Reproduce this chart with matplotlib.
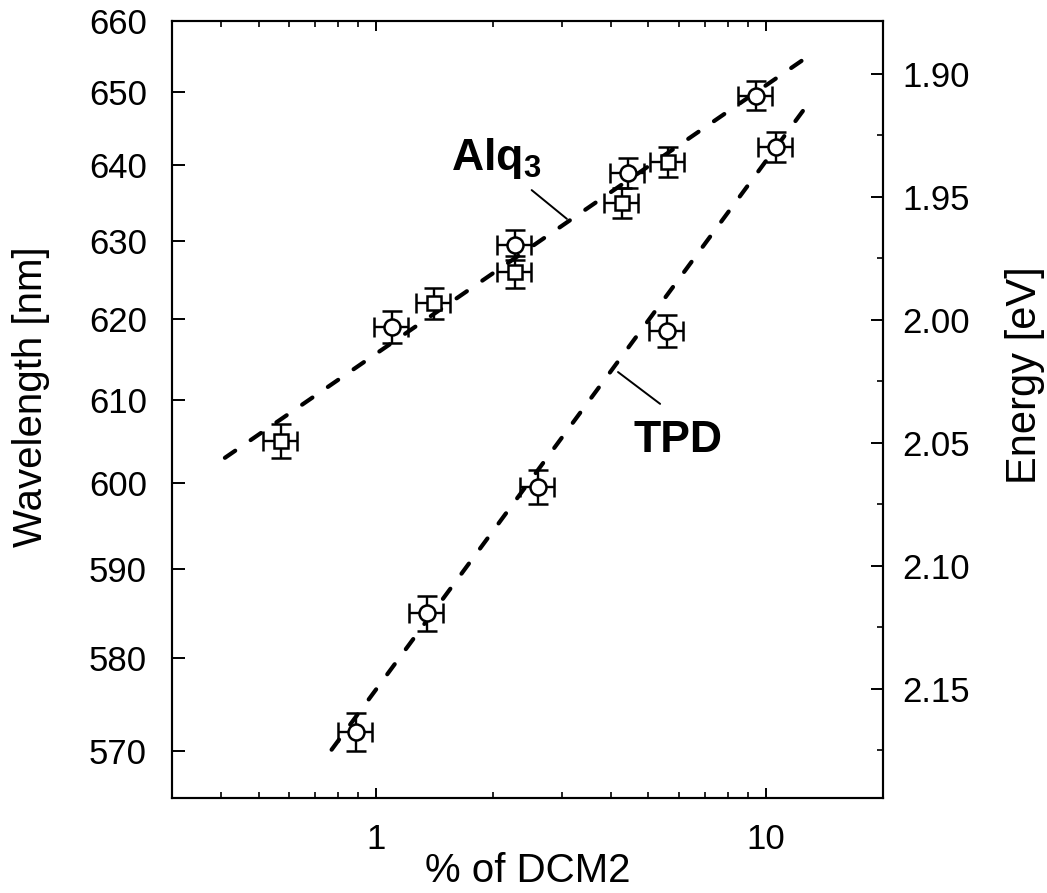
import numpy as np
import matplotlib
matplotlib.use("Agg")
from matplotlib import pyplot as plt
from matplotlib import ticker

plt.rcParams['font.family'] = ['Liberation Sans', 'DejaVu Sans']
plt.rcParams['mathtext.fontset'] = 'custom'
plt.rcParams['mathtext.bf'] = 'Liberation Sans:bold'
plt.rcParams['mathtext.rm'] = 'Liberation Sans'

HC = 1239.84  # eV*nm

# measured peaks, square symbols
square_pct = [0.57, 1.41, 2.27, 4.28, 5.62]
square_nm = [605.0, 622.0, 626.0, 635.0, 640.5]

# measured peaks, circle symbols (upper branch)
circle_pct = [1.10, 2.27, 4.43, 9.42]
circle_nm = [619.0, 629.5, 639.0, 649.5]

# circle symbols, lower branch
tpd_pct = [0.89, 1.35, 2.60, 5.59, 10.6]
tpd_nm = [572.0, 585.0, 599.5, 618.5, 642.5]

nm_err = 2.0     # nm
pct_err = 0.10   # relative

# guide lines (end points)
alq3_fit_pct = [0.41, 12.7]
alq3_fit_nm = [603.0, 654.8]
tpd_fit_pct = [0.77, 12.9]
tpd_fit_nm = [570.1, 648.5]

nm_ticks = [570, 580, 590, 600, 610, 620, 630, 640, 650, 660]
ev_ticks = [1.90, 1.95, 2.00, 2.05, 2.10, 2.15]
ev_minor = [1.925, 1.975, 2.025, 2.075, 2.125, 2.175]
nm_lim = (565, 660)
pct_lim = (0.3, 20)


def nm_to_ev(l):
    return HC / np.asarray(l)


def fwd(l):
    return -HC / np.asarray(l)


def inv(v):
    return -HC / np.asarray(v)


fig = plt.figure(figsize=(10.47, 8.93), dpi=100)
ax = fig.add_axes([0.1643, 0.1064, 0.6791, 0.8701])
ax.set_xscale('log')
ax.set_yscale('function', functions=(fwd, inv))
ax.set_xlim(*pct_lim)
ax.set_ylim(*nm_lim)

dash = (0, (3, 4.5))
ax.plot(alq3_fit_pct, alq3_fit_nm, color='black', lw=3.0, ls=dash,
        dash_capstyle='round', zorder=2)
ax.plot(tpd_fit_pct, tpd_fit_nm, color='black', lw=3.0, ls=dash,
        dash_capstyle='round', zorder=2)

def draw_points(x, y, marker, ms):
    x = np.asarray(x)
    ax.errorbar(x, y, xerr=[x * pct_err, x * pct_err], yerr=nm_err,
                fmt=marker, ms=ms, mfc='white', mec='black', mew=1.8,
                ecolor='black', elinewidth=1.7, capsize=7.5, capthick=1.7,
                zorder=3)

draw_points(square_pct, square_nm, 's', 9.5)
draw_points(circle_pct, circle_nm, 'o', 11.5)
draw_points(tpd_pct, tpd_nm, 'o', 11.5)

# labels for the two lines
ax.text(1.56, 639.4, r'$\mathbf{Alq_3}$', fontsize=32, ha='left', va='baseline')
ax.annotate('', xy=(3.09, 632.9), xytext=(2.51, 636.7),
            arrowprops=dict(arrowstyle='-', lw=1.4, color='black',
                            shrinkA=0, shrinkB=0))
ax.text(4.57, 603.7, 'TPD', fontsize=32, fontweight='bold', ha='left', va='baseline')
ax.annotate('', xy=(5.36, 609.5), xytext=(4.18, 613.4),
            arrowprops=dict(arrowstyle='-', lw=1.4, color='black',
                            shrinkA=0, shrinkB=0))

# x axis
ax.xaxis.set_major_locator(ticker.FixedLocator([1, 10]))
ax.xaxis.set_major_formatter(ticker.FixedFormatter(['1', '10']))
ax.xaxis.set_minor_locator(ticker.LogLocator(base=10, subs=np.arange(2, 10)))
ax.xaxis.set_minor_formatter(ticker.NullFormatter())
ax.tick_params(axis='x', which='major', direction='in', length=7, width=1.4,
               labelsize=25, pad=18, top=True)
ax.tick_params(axis='x', which='minor', direction='in', length=4, width=1.2, top=True)

# left: wavelength
ax.set_yticks(nm_ticks, labels=[str(t) for t in nm_ticks])
ax.yaxis.set_minor_locator(ticker.NullLocator())
ax.tick_params(axis='y', which='major', direction='in', length=9, width=1.4,
               labelsize=25, pad=18, right=False)

# right: energy, linear in eV
ax2 = ax.twinx()
ax2.set_ylim(nm_to_ev(nm_lim[0]), nm_to_ev(nm_lim[1]))
ax2.set_yticks(ev_ticks, labels=['%.2f' % t for t in ev_ticks])
ax2.set_yticks(ev_minor, minor=True)
ax2.tick_params(axis='y', which='major', direction='in', length=9, width=1.4,
                labelsize=25, pad=14)
ax2.tick_params(axis='y', which='minor', direction='in', length=4, width=1.2)

for a in (ax, ax2):
    for s in a.spines.values():
        s.set_linewidth(1.5)

ax.set_xlabel('% of DCM2', fontsize=29)
ax.xaxis.set_label_coords(0.5, -0.07)
ax.set_ylabel('Wavelength [nm]', fontsize=29)
ax.yaxis.set_label_coords(-0.172, 0.517)
ax2.set_ylabel('Energy [eV]', fontsize=30)
ax2.yaxis.set_label_coords(1.172, 0.544)

fig.savefig('out.png', dpi=100)
